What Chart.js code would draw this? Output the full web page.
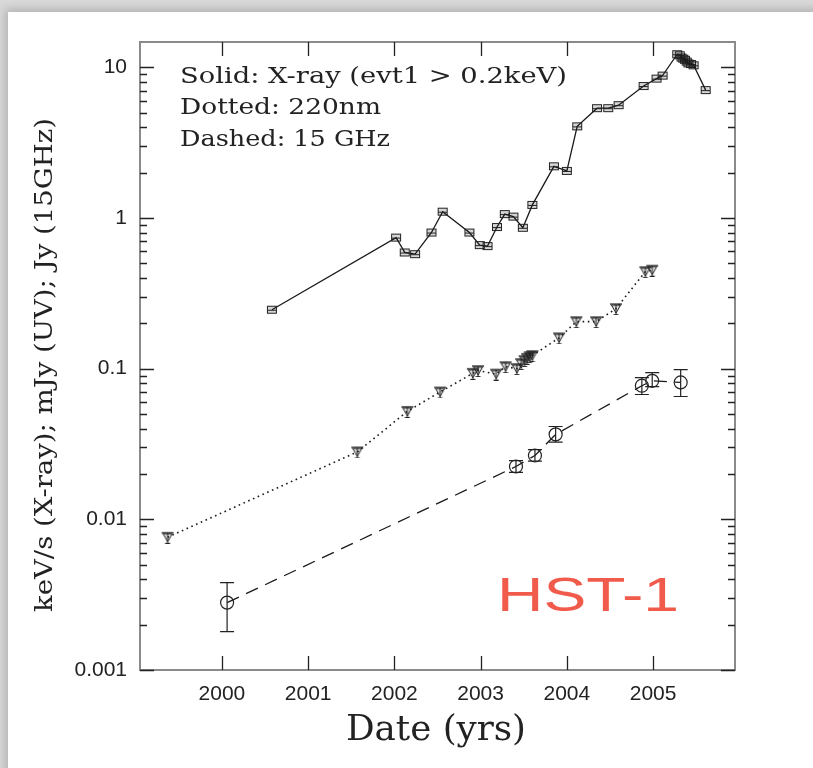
<!DOCTYPE html>
<html>
<head>
<meta charset="utf-8">
<script src="https://cdn.jsdelivr.net/npm/chart.js@4.4.1/dist/chart.umd.min.js"></script>
<style>
  html, body { margin: 0; padding: 0; background: #d9d9d9; width: 813px; height: 768px; overflow: hidden; }
  #panel { position: absolute; left: 8px; top: 12px; width: 820px; height: 780px; background: #fff;
           box-shadow: 0 0 9px 3px rgba(0,0,0,0.18); }
  #c { position: absolute; left: 0; top: 0; z-index: 2; }
</style>
</head>
<body>
<div id="panel"></div>
<canvas id="c" width="813" height="768"></canvas>
<script>
// ---- data ----
const xrayYears = [2000.58, 2002.02, 2002.12, 2002.24, 2002.43, 2002.56, 2002.87, 2002.99, 2003.08, 2003.19,
                   2003.28, 2003.38, 2003.49, 2003.60, 2003.85, 2004.00, 2004.12, 2004.35, 2004.48, 2004.60,
                   2004.89, 2005.04, 2005.11, 2005.28, 2005.31, 2005.33, 2005.35, 2005.37, 2005.39, 2005.41,
                   2005.44, 2005.47, 2005.61];
const xrayFlux  = [0.246, 0.74, 0.59, 0.575, 0.80, 1.10, 0.80, 0.66, 0.65, 0.87,
                   1.06, 1.02, 0.86, 1.22, 2.2, 2.05, 4.05, 5.35, 5.35, 5.6,
                   7.5, 8.4, 8.8, 12.2, 12.0, 11.6, 11.4, 11.2, 10.9, 10.6,
                   10.5, 10.3, 7.05];

const uvYears = [1999.37, 2001.57, 2002.15, 2002.53, 2002.91, 2002.97, 2003.18, 2003.29, 2003.42, 2003.47,
                 2003.51, 2003.54, 2003.57, 2003.60, 2003.91, 2004.11, 2004.34, 2004.57, 2004.91, 2004.99];
const uvFlux  = [0.0076, 0.028, 0.052, 0.070, 0.093, 0.097, 0.092, 0.103, 0.100, 0.108,
                 0.113, 0.117, 0.120, 0.122, 0.160, 0.205, 0.205, 0.250, 0.440, 0.450];

const radioYears = [2000.06, 2003.41, 2003.63, 2003.87, 2004.87, 2004.99, 2005.32];
const radioFlux  = [0.0028, 0.0224, 0.0265, 0.0366, 0.077, 0.083, 0.081];
const radioLo    = [0.0018, 0.0205, 0.0243, 0.0325, 0.0673, 0.076, 0.0653];
const radioHi    = [0.0038, 0.0245, 0.0290, 0.0413, 0.087, 0.094, 0.0984];

const xTickYears  = [2000, 2001, 2002, 2003, 2004, 2005];
const yTickValues = [0.001, 0.01, 0.1, 1, 10];
const yTickLabels = ['0.001', '0.01', '0.1', '1', '10'];

const legendLines = ['Solid: X-ray (evt1 > 0.2keV)', 'Dotted: 220nm', 'Dashed: 15 GHz'];
const xTitle = 'Date (yrs)';
const yTitle = 'keV/s (X-ray); mJy (UV); Jy (15GHz)';
const tagText = 'HST-1';

// ---- marker images ----
function squareMarker() {
  const c = document.createElement('canvas'); c.width = 12; c.height = 10;
  const g = c.getContext('2d');
  g.fillStyle = 'rgba(0,0,0,0.16)'; g.fillRect(1, 1, 10, 8);
  g.strokeStyle = '#222'; g.lineWidth = 1;
  g.strokeRect(1.5, 1.5, 9, 7);
  g.beginPath(); g.moveTo(1, 5.5); g.lineTo(11, 5.5); g.stroke();
  return c;
}
function triMarker() {
  const c = document.createElement('canvas'); c.width = 14; c.height = 13;
  const g = c.getContext('2d');
  g.strokeStyle = '#222'; g.lineWidth = 1;
  g.fillStyle = 'rgba(0,0,0,0.12)';
  g.beginPath(); g.moveTo(2.5, 3); g.lineTo(11.5, 3); g.lineTo(7, 11); g.closePath(); g.fill(); g.stroke();
  g.lineWidth = 1.4;
  g.beginPath(); g.moveTo(1, 2); g.lineTo(13, 2); g.stroke();
  g.lineWidth = 1;
  g.beginPath(); g.moveTo(7, 2); g.lineTo(7, 12); g.moveTo(4.5, 12.5); g.lineTo(9.5, 12.5); g.stroke();
  return c;
}

const pts = (xs, ys) => xs.map((x, i) => ({ x: x, y: ys[i] }));

function drawStretched(ctx, text, x, y, width, align) {
  const w = ctx.measureText(text).width;
  const s = width / w;
  ctx.save();
  ctx.translate(x, y);
  ctx.scale(s, 1);
  ctx.textAlign = align || 'left';
  ctx.fillText(text, 0, 0);
  ctx.restore();
}

const decor = {
  id: 'decor',
  afterDatasetsDraw(chart) {
    const ctx = chart.ctx, xs = chart.scales.x, ys = chart.scales.y, a = chart.chartArea;
    ctx.save();
    // radio error bars
    ctx.strokeStyle = '#222'; ctx.lineWidth = 1.2;
    radioYears.forEach((yr, i) => {
      const px = xs.getPixelForValue(yr);
      const lo = ys.getPixelForValue(radioLo[i]);
      const hi = ys.getPixelForValue(radioHi[i]);
      ctx.beginPath();
      ctx.moveTo(px, lo); ctx.lineTo(px, hi);
      ctx.moveTo(px - 7, lo); ctx.lineTo(px + 7, lo);
      ctx.moveTo(px - 7, hi); ctx.lineTo(px + 7, hi);
      ctx.stroke();
    });
    // frame
    ctx.strokeStyle = '#8a8a8a'; ctx.lineWidth = 2;
    ctx.strokeRect(a.left, a.top, a.right - a.left, a.bottom - a.top);
    // ticks
    ctx.strokeStyle = '#222'; ctx.lineWidth = 1.3;
    ctx.beginPath();
    xTickYears.forEach(v => {
      const px = Math.round(xs.getPixelForValue(v)) + 0.5;
      ctx.moveTo(px, a.bottom); ctx.lineTo(px, a.bottom - 14);
      ctx.moveTo(px, a.top); ctx.lineTo(px, a.top + 14);
    });
    yTickValues.forEach(v => {
      for (let m = 1; m <= 9; m++) {
        const val = v * m;
        if (val > ys.max || val < ys.min) continue;
        const py = Math.round(ys.getPixelForValue(val)) + 0.5;
        const len = m === 1 ? 14 : 7;
        ctx.moveTo(a.left, py); ctx.lineTo(a.left + len, py);
        ctx.moveTo(a.right, py); ctx.lineTo(a.right - len, py);
      }
    });
    ctx.stroke();
    ctx.restore();
  },
  afterDraw(chart) {
    const ctx = chart.ctx, a = chart.chartArea;
    ctx.save();
    ctx.fillStyle = '#222';
    ctx.textBaseline = 'alphabetic';
    // legend text
    ctx.font = '23px "DejaVu Serif"';
    const lw = [387, 201, 210];
    const lb = [83, 114, 146];
    legendLines.forEach((t, i) => drawStretched(ctx, t, 180, lb[i], lw[i], 'left'));
    // x title
    ctx.font = '36px "DejaVu Serif"';
    drawStretched(ctx, xTitle, 436, 740, 180, 'center');
    // y title
    ctx.save();
    ctx.translate(52, 365);
    ctx.rotate(-Math.PI / 2);
    ctx.font = '24px "DejaVu Serif"';
    drawStretched(ctx, yTitle, 0, 0, 494, 'center');
    ctx.restore();
    // HST-1 tag
    ctx.fillStyle = '#f15b4c';
    ctx.font = '48px "Liberation Sans"';
    drawStretched(ctx, tagText, 497, 611, 182, 'left');
    ctx.restore();
  }
};

new Chart(document.getElementById('c'), {
  type: 'scatter',
  data: {
    datasets: [
      { label: 'X-ray', data: pts(xrayYears, xrayFlux), showLine: true,
        borderColor: '#1a1a1a', borderWidth: 1.3, pointStyle: squareMarker(), pointRadius: 5 },
      { label: 'UV', data: pts(uvYears, uvFlux), showLine: true,
        borderColor: '#1a1a1a', borderWidth: 1.6, borderDash: [1.6, 3.6], pointStyle: triMarker(), pointRadius: 5 },
      { label: 'Radio', data: pts(radioYears, radioFlux), showLine: true,
        borderColor: '#1a1a1a', borderWidth: 1.3, borderDash: [13, 8], pointStyle: 'circle', pointRadius: 6.5,
        pointBorderWidth: 1.2, pointBorderColor: '#222', pointBackgroundColor: 'rgba(255,255,255,0)' }
    ]
  },
  options: {
    responsive: false, animation: false,
    layout: { padding: { top: 42, right: 78, left: 0, bottom: 0 } },
    plugins: { legend: { display: false }, tooltip: { enabled: false } },
    scales: {
      x: {
        type: 'linear', min: 1999.05, max: 2005.95,
        afterBuildTicks: s => { s.ticks = xTickYears.map(v => ({ value: v })); },
        afterFit: s => { s.height = 98; },
        ticks: { callback: v => String(v), font: { family: 'Liberation Sans', size: 21 }, color: '#222',
                 padding: 12, autoSkip: false, maxRotation: 0 },
        grid: { display: false, drawTicks: false }, border: { display: false }
      },
      y: {
        type: 'logarithmic', min: 0.001, max: 14.7,
        afterBuildTicks: s => { s.ticks = yTickValues.map(v => ({ value: v })); },
        afterFit: s => { s.width = 140; },
        ticks: { callback: (v, i) => yTickLabels[i], font: { family: 'Liberation Sans', size: 21 }, color: '#222',
                 padding: 13, autoSkip: false },
        grid: { display: false, drawTicks: false }, border: { display: false }
      }
    }
  },
  plugins: [decor]
});
</script>
</body>
</html>
